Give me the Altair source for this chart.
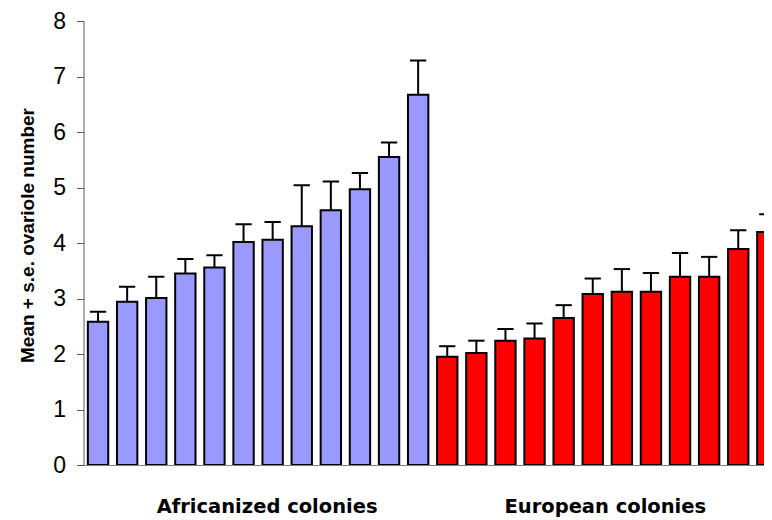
import altair as alt
import pandas as pd

groups = ["Africanized colonies", "European colonies"]
colors = ["#9999FF", "#FF0000"]

africanized_mean = [2.58, 2.94, 3.01, 3.45, 3.56, 4.02, 4.06, 4.30, 4.59, 4.97, 5.55, 6.67]
africanized_se = [0.18, 0.27, 0.38, 0.26, 0.22, 0.32, 0.32, 0.74, 0.52, 0.29, 0.26, 0.62]
european_mean = [1.95, 2.02, 2.24, 2.28, 2.65, 3.08, 3.12, 3.12, 3.39, 3.39, 3.89, 4.20]
european_se = [0.19, 0.22, 0.21, 0.27, 0.23, 0.28, 0.41, 0.34, 0.43, 0.36, 0.34, 0.32]

y_ticks = [0, 1, 2, 3, 4, 5, 6, 7, 8]

rows = []
idx = 0
for g, means, ses in [(groups[0], africanized_mean, africanized_se),
                      (groups[1], european_mean, european_se)]:
    for m, s in zip(means, ses):
        rows.append({"i": idx, "lo": idx - 0.35, "hi": idx + 0.35,
                     "cl": idx - 0.28, "cr": idx + 0.28,
                     "mean": m, "upper": round(m + s, 3), "group": g})
        idx += 1
df = pd.DataFrame(rows)

xscale = alt.Scale(domain=[-0.5, 22.885], nice=False, zero=False)
yscale = alt.Scale(domain=[0, 8], nice=False)
color = alt.Color("group:N", scale=alt.Scale(domain=groups, range=colors), legend=None)

base = alt.Chart(df)

bars = base.mark_rect(stroke="black", strokeWidth=2, clip=True).encode(
    x=alt.X("lo:Q", scale=xscale,
            axis=alt.Axis(title=None, labels=False, ticks=False, grid=False,
                          domainColor="#7f7f7f", domainWidth=1)),
    x2="hi:Q",
    y=alt.Y("mean:Q", scale=yscale,
            axis=alt.Axis(values=y_ticks, format="d", grid=False,
                          title="Mean + s.e. ovariole number",
                          titleFont="Liberation Sans", titleFontSize=19,
                          titleFontWeight="bold", titleColor="black",
                          titleAngle=-90, titleAlign="center",
                          titleBaseline="alphabetic",
                          titleX=-50.5, titleY=214,
                          labelFont="Liberation Sans", labelFontSize=23,
                          labelColor="black", labelPadding=11,
                          tickSize=7, tickColor="#5a5a5a", tickWidth=1,
                          domainColor="#5a5a5a", domainWidth=1)),
    y2=alt.datum(0),
    color=color,
)

stems = base.mark_rule(color="black", strokeWidth=2, clip=True).encode(
    x=alt.X("i:Q", scale=xscale),
    y=alt.Y("mean:Q", scale=yscale),
    y2="upper:Q",
)

caps = base.mark_rule(color="black", strokeWidth=2, clip=True).encode(
    x=alt.X("cl:Q", scale=xscale),
    x2="cr:Q",
    y=alt.Y("upper:Q", scale=yscale),
)

label_base = base.transform_aggregate(
    xc="mean(i)", groupby=["group"]
)

def group_label(name, dx):
    return label_base.transform_filter(alt.datum.group == name).mark_text(
        font="DejaVu Sans", fontSize=19.5, fontWeight="bold", color="black",
        baseline="alphabetic", align="center", dx=dx, dy=48
    ).encode(
        x=alt.X("xc:Q", scale=xscale),
        y=alt.YDatum(0),
        text="group:N",
    )

lab1 = group_label(groups[0], 9)
lab2 = group_label(groups[1], -2)

chart = alt.layer(bars, stems, caps, lab1, lab2).properties(
    width=680.5, height=444,
    background="white",
    autosize=alt.AutoSizeParams(type="none"),
    padding={"left": 75.5, "top": 13, "right": 0, "bottom": 54},
).configure_view(stroke=None)

chart.save("out.html", embed_options={"renderer": "svg", "actions": False})
